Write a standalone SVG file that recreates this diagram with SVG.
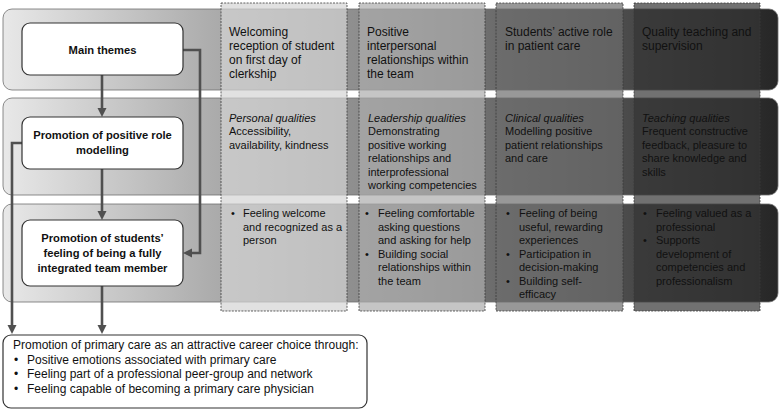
<svg xmlns="http://www.w3.org/2000/svg" width="780" height="412" viewBox="0 0 780 412">
<defs>
<linearGradient id="band" gradientUnits="userSpaceOnUse" x1="3" y1="0" x2="778" y2="0">
<stop offset="0" stop-color="#e8e8e8"/>
<stop offset="0.27" stop-color="#acacac"/>
<stop offset="0.5" stop-color="#878787"/>
<stop offset="0.75" stop-color="#555555"/>
<stop offset="1" stop-color="#262626"/>
</linearGradient>
<marker id="arr" markerUnits="userSpaceOnUse" markerWidth="10" markerHeight="10" refX="2" refY="4.5" orient="auto">
<path d="M0,0 L9,4.5 L0,9 z" fill="#505050"/>
</marker>
<style>
.band{fill:url(#band);stroke:#6e6e6e;stroke-width:0.8}
.col{stroke:#3a3a3a;stroke-width:0.8;stroke-dasharray:2 1.2;fill-opacity:0.7}
.node{fill:#fff;stroke:#333;stroke-width:1.2}
.conn{fill:none;stroke:#505050;stroke-width:2.6}
text{font-family:"Liberation Sans",Arial,sans-serif;fill:#111}
.h{font-size:12px}
.t{font-size:11px}
.i{font-style:italic}
.n{font-size:11.2px;font-weight:bold;text-anchor:middle}
.b{font-size:12px}
</style>
</defs>
<g id="bands">
<rect class="band" x="3" y="9" width="775" height="81" rx="9"/>
<rect class="band" x="3" y="98" width="775" height="97" rx="9"/>
<rect class="band" x="3" y="204" width="775" height="98" rx="9"/>
</g>
<g id="columns">
<rect class="col" x="221" y="3" width="126" height="308" fill="#d4d4d4"/>
<rect class="col" x="359" y="3" width="126" height="308" fill="#adadad"/>
<rect class="col" x="496" y="3" width="127" height="308" fill="#6c6c6c"/>
<rect class="col" x="634" y="3" width="126" height="308" fill="#353535"/>
</g>
<g id="connectors">
<path class="conn" d="M102,75 V110" marker-end="url(#arr)"/>
<path class="conn" d="M102,169 V213" marker-end="url(#arr)"/>
<path class="conn" d="M102,286 V327" marker-end="url(#arr)"/>
<path class="conn" d="M183,50 H200 V253 H190" marker-end="url(#arr)"/>
<path class="conn" d="M22,143 H12 V327" marker-end="url(#arr)"/>
</g>
<g id="node-main">
<rect class="node" x="22" y="23" width="161" height="52" rx="8"/>
<text class="n" x="102.5" y="54">Main themes</text>
</g>
<g id="node-role">
<rect class="node" x="22" y="117" width="161" height="52" rx="8"/>
<text class="n" x="102.5" y="139">Promotion of positive role</text>
<text class="n" x="102.5" y="154">modelling</text>
</g>
<g id="node-team">
<rect class="node" x="22" y="220" width="161" height="66" rx="8"/>
<text class="n" x="102.5" y="242">Promotion of students’</text>
<text class="n" x="102.5" y="257">feeling of being a fully</text>
<text class="n" x="102.5" y="271.5">integrated team member</text>
</g>
<g id="node-career">
<rect class="node" x="3" y="335" width="364" height="73" rx="8" stroke="#555"/>
<text class="b" x="13" y="349">Promotion of primary care as an attractive career choice through:</text>
<text class="b" x="14" y="363.5">•</text><text class="b" x="27" y="363.5">Positive emotions associated with primary care</text>
<text class="b" x="14" y="378">•</text><text class="b" x="27" y="378">Feeling part of a professional peer-group and network</text>
<text class="b" x="14" y="392.5">•</text><text class="b" x="27" y="392.5">Feeling capable of becoming a primary care physician</text>
</g>
<g id="theme-1">
<text class="h" x="229" y="35.5">Welcoming</text>
<text class="h" x="229" y="49.8">reception of student</text>
<text class="h" x="229" y="64.1">on first day of</text>
<text class="h" x="229" y="78.4">clerkship</text>
<text class="t i" x="229" y="121.5">Personal qualities</text>
<text class="t" x="229" y="135">Accessibility,</text>
<text class="t" x="229" y="148.5">availability, kindness</text>
<text class="t" x="231" y="217">•</text>
<text class="t" x="243" y="217">Feeling welcome</text>
<text class="t" x="243" y="230.5">and recognized as a</text>
<text class="t" x="243" y="244">person</text>
</g>
<g id="theme-2">
<text class="h" x="367" y="35.5">Positive</text>
<text class="h" x="367" y="49.8">interpersonal</text>
<text class="h" x="367" y="64.1">relationships within</text>
<text class="h" x="367" y="78.4">the team</text>
<text class="t i" x="368" y="121.5">Leadership qualities</text>
<text class="t" x="368" y="135">Demonstrating</text>
<text class="t" x="368" y="148.5">positive working</text>
<text class="t" x="368" y="162">relationships and</text>
<text class="t" x="368" y="175.5">interprofessional</text>
<text class="t" x="368" y="189">working competencies</text>
<text class="t" x="365" y="217">•</text>
<text class="t" x="378" y="217">Feeling comfortable</text>
<text class="t" x="378" y="230.5">asking questions</text>
<text class="t" x="378" y="244">and asking for help</text>
<text class="t" x="365" y="257.5">•</text>
<text class="t" x="378" y="257.5">Building social</text>
<text class="t" x="378" y="271">relationships within</text>
<text class="t" x="378" y="284.5">the team</text>
</g>
<g id="theme-3">
<text class="h" x="505" y="35.5">Students’ active role</text>
<text class="h" x="505" y="49.8">in patient care</text>
<text class="t i" x="505" y="121.5">Clinical qualities</text>
<text class="t" x="505" y="135">Modelling positive</text>
<text class="t" x="505" y="148.5">patient relationships</text>
<text class="t" x="505" y="162">and care</text>
<text class="t" x="506" y="217">•</text>
<text class="t" x="519" y="217">Feeling of being</text>
<text class="t" x="519" y="230.5">useful, rewarding</text>
<text class="t" x="519" y="244">experiences</text>
<text class="t" x="506" y="257.5">•</text>
<text class="t" x="519" y="257.5">Participation in</text>
<text class="t" x="519" y="271">decision-making</text>
<text class="t" x="506" y="284.5">•</text>
<text class="t" x="519" y="284.5">Building self-</text>
<text class="t" x="519" y="298">efficacy</text>
</g>
<g id="theme-4">
<text class="h" x="642" y="35.5">Quality teaching and</text>
<text class="h" x="642" y="49.8">supervision</text>
<text class="t i" x="642" y="121.5">Teaching qualities</text>
<text class="t" x="642" y="135">Frequent constructive</text>
<text class="t" x="642" y="148.5">feedback, pleasure to</text>
<text class="t" x="642" y="162">share knowledge and</text>
<text class="t" x="642" y="175.5">skills</text>
<text class="t" x="643" y="217">•</text>
<text class="t" x="656" y="217">Feeling valued as a</text>
<text class="t" x="656" y="230.5">professional</text>
<text class="t" x="643" y="244">•</text>
<text class="t" x="656" y="244">Supports</text>
<text class="t" x="656" y="257.5">development of</text>
<text class="t" x="656" y="271">competencies and</text>
<text class="t" x="656" y="284.5">professionalism</text>
</g>
</svg>
